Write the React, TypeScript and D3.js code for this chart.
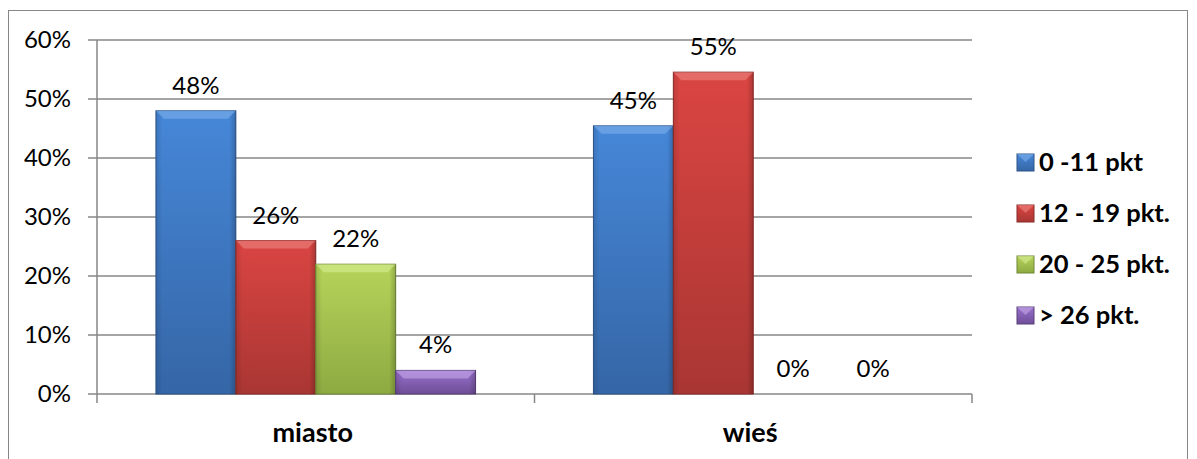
import React from "react";
import * as d3 from "d3";

const categories = ["miasto", "wieś"];
const seriesNames = ["0 -11 pkt", "12 - 19 pkt.", "20 - 25 pkt.", "> 26 pkt."];
const series0 = [48, 45.45];
const series1 = [26, 54.55];
const series2 = [22, 0];
const series3 = [4, 0];
const yTicks = [0, 10, 20, 30, 40, 50, 60];

const allSeries = [series0, series1, series2, series3];
const colors = [
  { top: "#4687D8", bot: "#3566A6", edge: "#2C5489", bevel: "#7FB0EC" },
  { top: "#DA4542", bot: "#A93633", edge: "#8A2B28", bevel: "#EC8582" },
  { top: "#B6D45A", bot: "#8DAA42", edge: "#6E8833", bevel: "#D6EC95" },
  { top: "#9A70CC", bot: "#6E4E97", edge: "#58407A", bevel: "#C4A8E8" },
];

export default function App() {
  const W = 1197, H = 459;
  const left = 97, right = 972, top = 40, bottom = 394;
  const x0 = d3.scaleBand<string>().domain(categories).range([left, right]).paddingInner(0).paddingOuter(0);
  const bw = x0.bandwidth();
  const groupW = bw * 320 / 438;
  const x1 = d3.scaleBand<string>().domain(seriesNames).range([0, groupW]).padding(0);
  const y = d3.scaleLinear().domain([0, 60]).range([bottom, top]);
  const font = "Lato, 'Open Sans', sans-serif";
  const grid = "#878787";

  return (
    <svg width={W} height={H} style={{ position: "absolute", left: 0, top: 0 }}>
      <defs>
        {colors.map((c, i) => (
          <linearGradient key={i} id={`g${i}`} x1="0" y1="0" x2="0" y2="1">
            <stop offset="0" stopColor={c.top} />
            <stop offset="1" stopColor={c.bot} />
          </linearGradient>
        ))}
        {colors.map((c, i) => (
          <linearGradient key={"h" + i} id={`h${i}`} x1="0" y1="0" x2="1" y2="0">
            <stop offset="0" stopColor="#000" stopOpacity="0.12" />
            <stop offset="0.08" stopColor="#000" stopOpacity="0" />
            <stop offset="0.92" stopColor="#000" stopOpacity="0" />
            <stop offset="1" stopColor="#000" stopOpacity="0.2" />
          </linearGradient>
        ))}
      </defs>
      <rect x={0} y={0} width={W} height={H} fill="#fff" />
      <rect x={8.5} y={10.5} width={1179} height={470} fill="#fff" stroke={grid} strokeWidth={1} />
      {yTicks.map((t) => (
        <g key={t}>
          <line x1={left - 9} x2={right} y1={y(t)} y2={y(t)} stroke={grid} strokeWidth={1.5} />
          <text x={71} y={y(t)} dy="0.35em" textAnchor="end" fontFamily={font} fontSize={24} fill="#000">
            {t}%
          </text>
        </g>
      ))}
      <line x1={left} x2={left} y1={top} y2={bottom + 9} stroke={grid} strokeWidth={1.5} />
      {categories.map((c) => (
        <line key={c} x1={(x0(c) as number) + bw} x2={(x0(c) as number) + bw} y1={bottom} y2={bottom + 9} stroke={grid} strokeWidth={1.5} />
      ))}
      {categories.map((c, ci) => {
        const gx = (x0(c) as number) + (bw - groupW) / 2;
        return (
          <g key={c}>
            {allSeries.map((s, si) => {
              const v = s[ci];
              const bx = gx + (x1(seriesNames[si]) as number);
              const w = x1.bandwidth();
              const by = y(v);
              const h = bottom - by;
              const bev = Math.min(8, h / 2);
              return (
                <g key={si}>
                  {h > 0 && (
                    <>
                      <rect x={bx} y={by} width={w} height={h} fill={`url(#g${si})`} stroke={colors[si].edge} strokeWidth={1} />
                      <rect x={bx} y={by} width={w} height={h} fill={`url(#h${si})`} />
                      <path
                        d={`M${bx},${by} L${bx + w},${by} L${bx + w - bev},${by + bev} L${bx + bev},${by + bev} Z`}
                        fill={colors[si].bevel}
                        opacity={0.6}
                      />
                    </>
                  )}
                  <text x={bx + w / 2} y={by - 17} textAnchor="middle" fontFamily={font} fontSize={24} fill="#000">
                    {Math.round(v)}%
                  </text>
                </g>
              );
            })}
            <text x={(x0(c) as number) + bw / 2 - 3} y={433} dy="0.35em" textAnchor="middle" fontFamily={font} fontWeight="bold" fontSize={27} fill="#000">
              {c}
            </text>
          </g>
        );
      })}
      {seriesNames.map((n, i) => {
        const ly = 162 + i * 51;
        return (
          <g key={n}>
            <rect x={1017} y={ly - 8} width={17} height={17} fill={`url(#g${i})`} stroke={colors[i].edge} strokeWidth={1} />
            <path d={`M1017,${ly - 8} L1034,${ly - 8} L1025.5,${ly} Z`} fill={colors[i].bevel} opacity={0.6} />
            <text x={1039} y={ly} dy="0.35em" fontFamily={font} fontWeight="bold" fontSize={25.5} fill="#000">
              {n}
            </text>
          </g>
        );
      })}
    </svg>
  );
}
